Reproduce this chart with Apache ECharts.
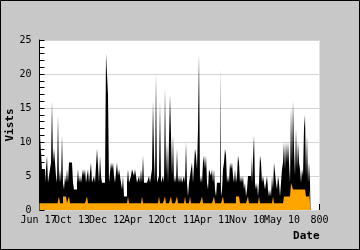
<!DOCTYPE html>
<html><head><meta charset="utf-8">
<script src="https://cdn.jsdelivr.net/npm/echarts@6/dist/echarts.min.js"></script>
<style>html,body{margin:0;padding:0;background:#c8c8c8}#c{width:360px;height:250px}</style>
</head><body><div id="c"></div>
<script>
const tickLabels = ["Jun 17","Oct 13","Dec 12","Apr 12","Oct 11","Apr 11","Nov 10","May 10","800"];
const slotCount = 281;
const labelStep = 35;

const visits = [
6,11,11,6,6,6,4,4,8,4, 4,6,7,16,7,9,9,5,4,14, 4,6,4,11,4,3,5,4,6,4, 7,7,7,7,4,3,3,3,4,6,
4,5,4,4,6,5,6,4,5,6, 4,4,7,4,4,5,4,4,9,9, 4,8,5,4,4,4,4,23,23,17,
4,4,7,6,7,5,4,4,7,5, 6,5,4,3,5,2,2,2,4,6, 4,4,5,6,6,5,6,5,4,4, 5,4,6,4,8,4,4,4,4,4,
5,4,4,6,16,8,4,20,4,4, 5,16,4,4,5,4,18,5,10,4, 4,17,17,5,11,4,5,4,9,4, 5,4,
5,4,4,5,4,10,4,2,4,4, 6,7,4,4,9,8,6,12,23,4, 5,4,7,8,6,8,4,3,6,6, 5,6,4,6,3,2,4,4,4,21,
2,3,6,7,9,8,4,5,4,7, 6,7,5,4,6,4,5,8,7,4, 5,4,5,3,4,2,3,5,5,5,
8,4,4,11,4,3,4,2,4,8, 7,4,5,4,3,4,5,3,2,3, 2,5,3,7,7,4,3,5,4,2, 4,6,7,10,6,10,7,10,7,4,
15,7,16,9,5,12,6,10,7,6, 4,6,5,12,14,5,11,4,7,4
];

const uniqueVisitors = [
1,1,1,1,1,1,1,1,1,1,1,1,1,1,1,1,1,1,1,1,
2,1,1,1,2,2,2,2,1,1,2,1,1,1,1,1,1,1,1,1,
1,1,1,1,1,1,1,1,2,1,1,1,1,1,1,1,1,1,1,1,
1,1,1,1,1,1,1,1,1,1,1,1,1,1,1,1,1,1,1,1,
1,1,1,1,1,1,1,1,1,2,1,1,1,1,1,1,1,1,1,1,
1,1,1,2,1,1,1,1,1,1,1,1,1,1,1,1,1,1,1,1,
2,1,1,1,1,1,2,1,1,1,1,1,2,1,1,1,1,1,2,1,
1,1,1,1,1,1,2,1,1,1,1,2,1,1,1,1,1,1,1,1,
1,1,1,2,1,1,1,1,1,1,1,1,1,1,1,2,1,1,1,1,
1,1,1,1,2,1,1,1,1,1,1,1,1,1,1,1,1,2,2,2,
2,1,1,1,1,1,1,1,1,2,1,1,1,1,1,1,1,1,1,1,
2,1,1,1,1,1,1,1,1,1,1,1,1,1,2,1,1,1,1,1,
1,1,1,1,1,2,2,2,2,2,2,2,4,4,3,3,3,3,3,3,
3,3,3,3,3,3,3,2,2,2,3,3
];

const categories = Array.from({length: slotCount}, (_, i) => i);
const mono = 'DejaVu Sans Mono';
const isLabelSlot = (i) => i % labelStep === 0;
const labelFont = {fontFamily: mono, fontSize: 10, color: '#000'};

const chart = echarts.init(document.getElementById('c'));
chart.setOption({
  backgroundColor: '#c8c8c8',
  animation: false,
  graphic: [{
    type: 'rect', silent: true, z: 100,
    shape: {x: 0.5, y: 0.5, width: 359, height: 249},
    style: {fill: null, stroke: '#000', lineWidth: 1}
  }],
  grid: {left: 39.5, right: 40.5, top: 40, bottom: 40, show: true, backgroundColor: '#fff', borderWidth: 0,
         containLabel: false, outerBoundsMode: 'none'},
  xAxis: {
    type: 'category', data: categories, boundaryGap: false,
    name: 'Date', nameLocation: 'end', nameGap: 0,
    nameTextStyle: {fontFamily: mono, fontWeight: 'bold', fontSize: 11, color: '#000', align: 'right', verticalAlign: 'top', padding: [21, 0, 0, 0]},
    axisLine: {show: false},
    axisTick: {show: true, inside: true, length: 6, interval: isLabelSlot, lineStyle: {color: '#000'}},
    axisLabel: {
      interval: 0, margin: 5, fontFamily: mono, fontSize: 10, color: '#000',
      showMinLabel: true, showMaxLabel: true, hideOverlap: false,
      rich: {
        f: Object.assign({padding: [0, 2, 0, 0]}, labelFont),
        d: Object.assign({padding: [0, 5, 0, 0]}, labelFont),
        e: Object.assign({padding: [0, 0, 0, 0]}, labelFont)
      },
      formatter: (v, i) => {
        if (!isLabelSlot(i)) return '';
        const k = Math.round(i / labelStep);
        const t = tickLabels[k];
        const key = k === 0 ? 'f' : (k === tickLabels.length - 1 ? 'e' : 'd');
        return '{' + key + '|' + t + '}';
      }
    },
    splitLine: {show: false}
  },
  yAxis: {
    type: 'value', min: 0, max: 25, interval: 5,
    name: 'Vists', nameLocation: 'middle', nameGap: 24, nameMoveOverlap: false,
    nameTextStyle: {fontFamily: mono, fontWeight: 'bold', fontSize: 11, color: '#000'},
    axisLine: {show: true, lineStyle: {color: '#000'}},
    axisTick: {show: true, inside: true, length: 5, lineStyle: {color: '#000'}},
    minorTick: {show: true, splitNumber: 5, length: 5, lineStyle: {color: '#000'}},
    splitLine: {show: true, lineStyle: {color: '#d4d4d4'}},
    minorSplitLine: {show: false},
    axisLabel: {margin: 8, fontFamily: mono, fontSize: 10, color: '#000'}
  },
  series: [
    {type: 'line', step: 'middle', data: visits, symbol: 'none', lineStyle: {width: 0, opacity: 0}, areaStyle: {color: '#000', opacity: 1}},
    {type: 'line', step: 'middle', data: uniqueVisitors, symbol: 'none', lineStyle: {width: 0, opacity: 0}, areaStyle: {color: '#ffa500', opacity: 1}}
  ]
});
</script></body></html>
